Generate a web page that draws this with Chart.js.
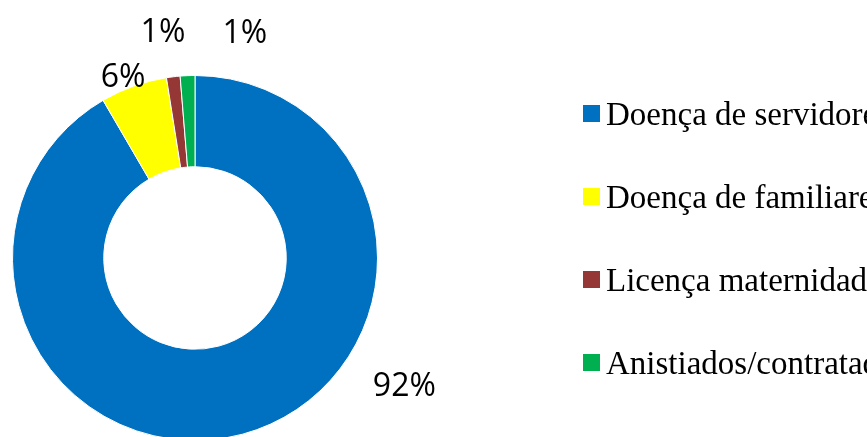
<!DOCTYPE html>
<html>
<head>
<meta charset="utf-8">
<script src="https://cdn.jsdelivr.net/npm/chart.js@4/dist/chart.umd.min.js"></script>
<style>
  html, body { margin: 0; padding: 0; background: #fff; overflow: hidden; }
  #wrap { position: absolute; left: 0; top: 0; width: 867px; height: 460px; }
</style>
</head>
<body>
<div id="wrap"><canvas id="pieChart" width="867" height="460"></canvas></div>
<script>
// dados
const categorias = ['Doença de servidores', 'Doença de familiares', 'Licença maternidade', 'Anistiados/contratados'];
const valores = [91.6, 5.9, 1.2, 1.3];
const rotulos = ['92%', '6%', '1%', '1%'];
const cores = ['#0070C0', '#FFFF00', '#953735', '#00B050'];

// posição dos rótulos: ângulo (graus, canvas) e distância relativa ao raio externo
const posRotulos = [
    { angle: 31.6, dist: 1.347 },
    { angle: -111.75, dist: 1.062 },
    { angle: -98.1, dist: 1.245 },
    { angle: -77.5, dist: 1.26 }
];

const labelsPlugin = {
    id: 'pctLabels',
    afterDatasetsDraw(chart) {
        const ctx = chart.ctx;
        const meta = chart.getDatasetMeta(0);
        ctx.save();
        ctx.font = '32px "Open Sans", sans-serif';
        ctx.fillStyle = '#000';
        ctx.textAlign = 'center';
        ctx.textBaseline = 'middle';
        meta.data.forEach((arc, i) => {
            const p = posRotulos[i];
            const a = p.angle * Math.PI / 180;
            const r = arc.outerRadius * p.dist;
            ctx.fillText(rotulos[i], arc.x + r * Math.cos(a), arc.y + r * Math.sin(a));
        });
        ctx.restore();
    }
};

// legenda desenhada à direita (cortada pela borda, como no original)
const legendPlugin = {
    id: 'sideLegend',
    afterDraw(chart) {
        const ctx = chart.ctx;
        const x0 = 583, firstBaseline = 125, step = 83, box = 17;
        ctx.save();
        ctx.font = '33px "Liberation Serif", "Times New Roman", serif';
        ctx.textBaseline = 'alphabetic';
        ctx.textAlign = 'left';
        categorias.forEach((c, i) => {
            const y = firstBaseline + i * step;
            ctx.fillStyle = cores[i];
            ctx.fillRect(x0, y - box - 3, box, box);
            ctx.fillStyle = '#000';
            ctx.fillText(c, x0 + box + 6, y);
        });
        ctx.restore();
    }
};

new Chart(document.getElementById('pieChart').getContext('2d'), {
    type: 'doughnut',
    data: {
        labels: categorias,
        datasets: [{
            data: valores,
            backgroundColor: cores,
            borderColor: '#ffffff',
            borderWidth: 1
        }]
    },
    options: {
        responsive: false,
        animation: false,
        cutout: '50%',
        layout: { padding: { left: 12, top: 75, right: 489, bottom: 19 } },
        plugins: {
            legend: { display: false },
            tooltip: { enabled: false }
        }
    },
    plugins: [labelsPlugin, legendPlugin]
});
</script>
</body>
</html>
